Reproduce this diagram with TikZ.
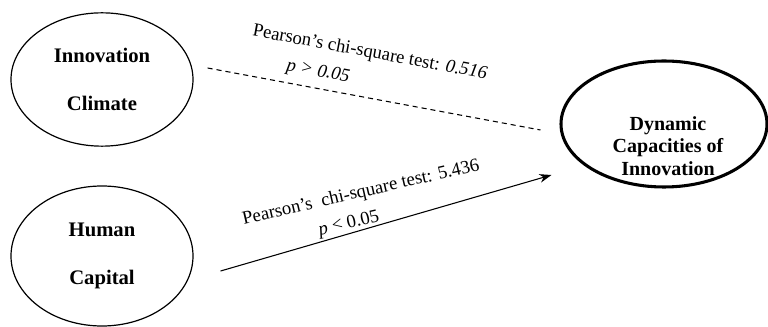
\documentclass[tikz,border=0pt]{standalone}
\usepackage{fontspec}
\setmainfont{Liberation Serif}
\usepackage{xcolor}
\usepackage{tikz}
\usetikzlibrary{shapes.geometric, arrows.meta, calc}

\begin{document}
\begin{tikzpicture}[
    x=0.75pt, y=-0.75pt,
    factor/.style={draw,ellipse,line width=0.9pt,align=center,font=\fontsize{15.5}{18}\selectfont\bfseries},
    outcome/.style={draw,ellipse,line width=2.3pt,minimum width=154.5pt,minimum height=94.5pt},
    stat/.style={font=\fontsize{14}{16}\selectfont,inner sep=0pt},
    arr/.style={-{Stealth[length=9pt,width=6.5pt]},line width=0.8pt},
  ]
    \useasboundingbox (0,0) rectangle (768,327);

    \node[factor, minimum width=136.5pt, minimum height=100pt] (clim) at (102,79.5) {Innovation\\[18pt]Climate};
    \node[factor, minimum width=136.5pt, minimum height=105pt] (hcap) at (102,256) {Human\\[18pt]Capital};
    \node[outcome] (dyn) at (664,124) {};
    \node[factor, draw=none, font=\fontsize{15}{17}\selectfont\bfseries] (dynlbl) at (668,146) {Dynamic\\Capacities of\\Innovation};

    \draw[dashed, dash pattern=on 3.8pt off 3pt, line width=0.8pt] ($(clim.east)+(14,-11.5)$) -- ($(dyn.west)+(-19,6)$);
    \draw[arr] ($(hcap.east)+(27,15)$) -- ($(dyn.west)+(-8,51)$);

    \node[stat, rotate=-10.5] (chiA) at (370,53) {Pearson’s chi-square test: \textit{0.516}};
    \node[stat, rotate=-10.5] (pA) at (318,72) {\textit{p > 0.05}};
    \node[stat, rotate=13] (chiB) at (361,193) {Pearson’s\ \ chi-square test: 5.436};
    \node[stat, rotate=13] (pB) at (349,224) {\textit{p} < 0.05};
  \end{tikzpicture}
\end{document}
